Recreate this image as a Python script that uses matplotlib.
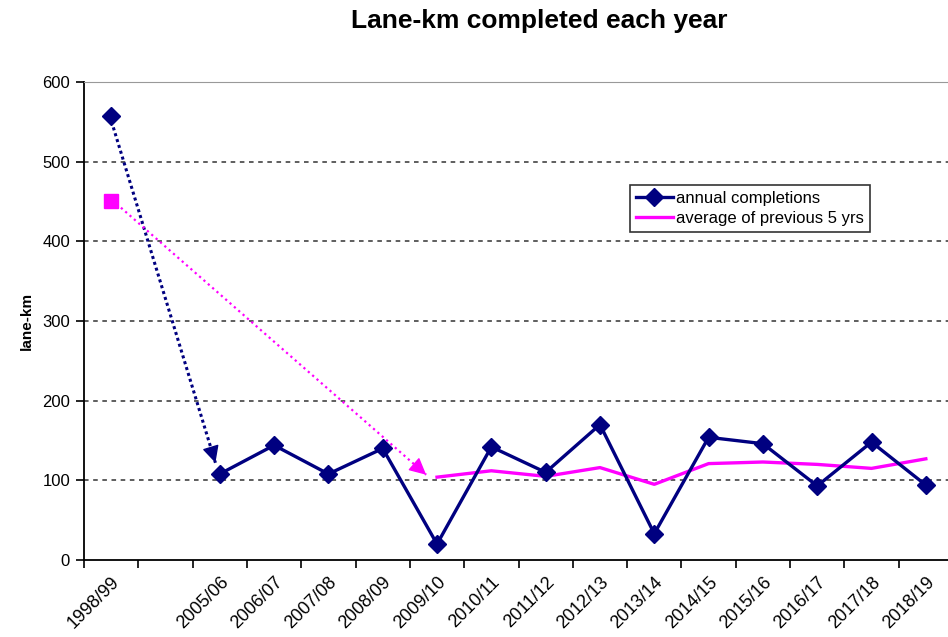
import numpy as np
import matplotlib
matplotlib.use("Agg")
import matplotlib.pyplot as plt

plt.rcParams['font.family'] = ['Liberation Sans', 'DejaVu Sans']

# categories (blank slot between 1998/99 and 2005/06)
years = ['1998/99', '', '2005/06', '2006/07', '2007/08', '2008/09', '2009/10',
         '2010/11', '2011/12', '2012/13', '2013/14', '2014/15', '2015/16',
         '2016/17', '2017/18', '2018/19']
annual = [557, None, 108, 144, 108, 140, 20, 142, 110, 170, 33, 154, 146, 93, 148, 94]
avg5 = [451, None, None, None, None, None, 104, 112, 105, 116, 95, 121, 123, 120, 115, 127]

# arrow targets (category position, value) for the dotted pointers
annual_arrow_end = (1.92, 122)
avg_arrow_end = (5.8, 107)

navy = '#000080'
magenta = '#FF00FF'

fig = plt.figure(figsize=(9.48, 6.37), dpi=100)
ax = fig.add_axes([84 / 948, 77 / 637, 869 / 948, 478 / 637])

x = np.arange(len(years))
a = np.array([np.nan if v is None else v for v in annual], dtype=float)
m = np.array([np.nan if v is None else v for v in avg5], dtype=float)

ax.plot(x, a, color=navy, lw=2.4, marker='D', ms=9, mfc=navy, mec=navy,
        label='annual completions', zorder=4)
ax.plot(x[1:], m[1:], color=magenta, lw=2.4, label='average of previous 5 yrs', zorder=3)
ax.plot(x[:1], m[:1], ls='none', marker='s', ms=10, color=magenta, zorder=3)


def pointer(start, end, color, lw, dots):
    # dotted shaft plus a solid filled head
    ax.plot([start[0], end[0]], [start[1], end[1]], color=color, lw=lw,
            ls=dots, zorder=5)
    t = 0.97
    back = (start[0] + (end[0] - start[0]) * t, start[1] + (end[1] - start[1]) * t)
    ax.annotate('', xy=end, xytext=back,
                arrowprops=dict(arrowstyle='-|>,head_length=0.8,head_width=0.4',
                                color=color, lw=1, mutation_scale=13,
                                shrinkA=0, shrinkB=0), zorder=6)


pointer((x[0] + 0.04, a[0] - 14), annual_arrow_end, navy, 2.2, (0, (1, 1)))
pointer((x[0] + 0.1, m[0] - 4), avg_arrow_end, magenta, 1.6, (0, (1, 1.6)))

ax.set_xlim(-0.5, len(years) - 0.5)
ax.set_ylim(0, 600)
ax.set_yticks(np.arange(0, 601, 100))
ax.set_xticks(x)
ax.set_xticklabels(years, rotation=45, ha='right', rotation_mode='anchor')
ax.set_xticks(np.arange(-0.5, len(years), 1), minor=True)
ax.tick_params(axis='x', which='major', length=0, pad=10, labelsize=13)
ax.tick_params(axis='x', which='minor', length=6, width=1.2, color='black', direction='out')
ax.tick_params(axis='y', length=6, width=1.2, labelsize=12, direction='out', pad=4)

for v in range(100, 600, 100):
    ax.axhline(v, color='#333333', lw=1.1, ls=(0, (3, 3)), zorder=1)

ax.spines['left'].set_linewidth(1.3)
ax.spines['bottom'].set_linewidth(1.3)
ax.spines['top'].set_color('#999999')
ax.spines['right'].set_color('#999999')

ax.set_ylabel('lane-km', fontsize=11, fontweight='bold', labelpad=6)

leg = ax.legend(loc='upper left', bbox_to_anchor=((630 - 84) / 869, (555 - 180) / 478),
                frameon=True, fancybox=False, edgecolor='black', fontsize=12,
                handlelength=2.2, handletextpad=0.2, borderpad=0.35, labelspacing=0.3,
                borderaxespad=0)
leg.get_frame().set_linewidth(1.2)

fig.text(539 / 948, 1 - 21 / 637, 'Lane-km completed each year', ha='center', va='center',
         fontsize=19, fontweight='bold')

fig.savefig('out.png', dpi=100)
